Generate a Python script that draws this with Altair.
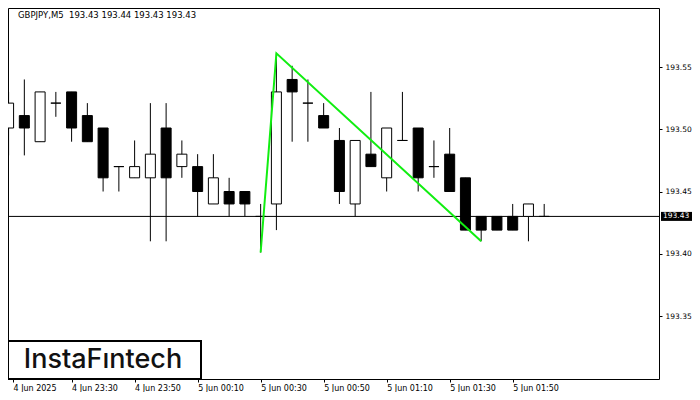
import json
import altair as alt
import pandas as pd

# ---- data (5-minute candles, index 0 = 4 Jun 23:10) ----
idx = list(range(35))
opens = [193.501, 193.511, 193.490, 193.521, 193.530, 193.511, 193.501, 193.470, 193.461, 193.461,
         193.501, 193.470, 193.470, 193.440, 193.450, 193.450, 193.430, 193.440, 193.540, 193.521,
         193.511, 193.491, 193.440, 193.480, 193.461, 193.491, 193.501, 193.470, 193.480, 193.461,
         193.430, 193.430, 193.430, 193.430, 193.430]
highs = [193.530, 193.540, 193.530, 193.530, 193.530, 193.521, 193.501, 193.470, 193.491, 193.521,
         193.521, 193.491, 193.480, 193.480, 193.461, 193.450, 193.440, 193.561, 193.551, 193.540,
         193.521, 193.501, 193.491, 193.530, 193.501, 193.530, 193.501, 193.491, 193.501, 193.461,
         193.430, 193.430, 193.440, 193.440, 193.440]
lows = [193.479, 193.479, 193.490, 193.510, 193.490, 193.490, 193.450, 193.450, 193.461, 193.410,
        193.410, 193.461, 193.430, 193.440, 193.430, 193.430, 193.401, 193.419, 193.490, 193.490,
        193.501, 193.440, 193.430, 193.470, 193.450, 193.491, 193.450, 193.461, 193.450, 193.419,
        193.410, 193.419, 193.419, 193.410, 193.430]
closes = [193.521, 193.501, 193.530, 193.521, 193.501, 193.490, 193.461, 193.470, 193.470, 193.480,
          193.461, 193.480, 193.450, 193.461, 193.440, 193.440, 193.430, 193.530, 193.530, 193.521,
          193.501, 193.450, 193.491, 193.470, 193.501, 193.491, 193.461, 193.470, 193.450, 193.419,
          193.419, 193.419, 193.419, 193.440, 193.430]

x_tick_idx = [0, 4, 8, 12, 16, 20, 24, 28, 32]
x_labels = ["4 Jun 2025", "4 Jun 23:30", "4 Jun 23:50", "5 Jun 00:10", "5 Jun 00:30",
            "5 Jun 00:50", "5 Jun 01:10", "5 Jun 01:30", "5 Jun 01:50"]
y_ticks = [193.35, 193.40, 193.45, 193.50, 193.55]

bid_price = [193.43]
bid_label = ["193.43"]

pattern_idx = [16, 17, 30]
pattern_price = [193.401, 193.561, 193.410]

title_text = "GBPJPY,M5\u00a0\u00a0193.43 193.44 193.43 193.43"
logo_text = "InstaF\u0131ntech"

X_DOMAIN = [0.28, 40.97]
Y_DOMAIN = [193.2994, 193.5974]

FONT = "DejaVu Sans"

candles = pd.DataFrame({"i": idx, "open": opens, "high": highs, "low": lows, "close": closes})
bid_df = pd.DataFrame({"i": [X_DOMAIN[0]], "p": bid_price, "t": bid_label})
pattern_df = pd.DataFrame({"i": pattern_idx, "p": pattern_price})

xs = alt.Scale(domain=X_DOMAIN, nice=False, zero=False)
ys = alt.Scale(domain=Y_DOMAIN, nice=False, zero=False)

tick_values = [max(v, X_DOMAIN[0]) for v in x_tick_idx]
label_expr = json.dumps(x_labels) + "[round(datum.value / 4)]"

x_axis = alt.Axis(values=tick_values, labelExpr=label_expr, title=None, grid=False, domain=False,
                  tickSize=3, tickColor="black", labelAlign="left", labelBaseline="top",
                  labelPadding=2, labelFlush=False, labelOverlap=False, labelBound=False,
                  labelFont=FONT, labelFontSize=8, labelColor="black")
y_axis = alt.Axis(orient="right", values=y_ticks, format=".2f", title=None, grid=False, domain=False,
                  tickSize=3, tickColor="black", labelPadding=3, labelFont=FONT, labelFontSize=7.5,
                  labelColor="black", labelOverlap=False, labelFlush=False)


def X(field):
    return alt.X(field, scale=xs, axis=x_axis)


def Y(field):
    return alt.Y(field, scale=ys, axis=y_axis)


bid_line = alt.Chart(bid_df).mark_rule(color="black", strokeWidth=1).encode(
    y=Y("p:Q")
)

wicks = alt.Chart(candles).mark_rule(color="black", strokeWidth=1).encode(
    x=X("i:Q"),
    y=Y("low:Q"),
    y2="high:Q",
)

bodies = alt.Chart(candles).mark_bar(size=10, stroke="black", strokeWidth=1, orient="vertical").encode(
    x=X("i:Q"),
    y=Y("open:Q"),
    y2="close:Q",
    fill=alt.condition("datum.close < datum.open", alt.value("black"), alt.value("white")),
)

pattern = alt.Chart(pattern_df).mark_line(color="#11ee11", strokeWidth=2).encode(
    x=X("i:Q"),
    y=Y("p:Q"),
)

bid_box = alt.Chart(bid_df).mark_rule(color="black", strokeWidth=9, strokeCap="butt").encode(
    x=alt.value(653), x2=alt.value(684),
    y=Y("p:Q"),
)
bid_text = alt.Chart(bid_df).mark_text(color="white", font=FONT, fontSize=7.5, align="left",
                                       baseline="middle").encode(
    x=alt.value(655),
    y=Y("p:Q"),
    text="t:N",
)

title = alt.Chart(alt.Data(values=[{}])).mark_text(
    font=FONT, fontSize=8.5, color="black", align="left", baseline="alphabetic"
).encode(x=alt.value(10), y=alt.value(10), text=alt.value(title_text))

logo_box = alt.Chart(alt.Data(values=[{}])).mark_rect(
    fill="white", stroke="black", strokeWidth=2
).encode(x=alt.value(0), x2=alt.value(193), y=alt.value(333), y2=alt.value(371))

logo = alt.Chart(alt.Data(values=[{}])).mark_text(
    font="Inter", fontSize=27, fontWeight=500, color="#111111", align="center", baseline="middle"
).encode(x=alt.value(95), y=alt.value(352), text=alt.value(logo_text))

chart = alt.layer(
    bid_line, wicks, bodies, pattern, bid_box, bid_text, title, logo_box, logo
).properties(
    width=651,
    height=371,
    background="white",
    padding={"left": 0, "top": 0, "right": 33, "bottom": 13},
    autosize=alt.AutoSizeParams(type="none"),
).configure_view(
    stroke="black", strokeWidth=1
)

chart.save("out.html", embed_options={"renderer": "svg", "actions": False})
